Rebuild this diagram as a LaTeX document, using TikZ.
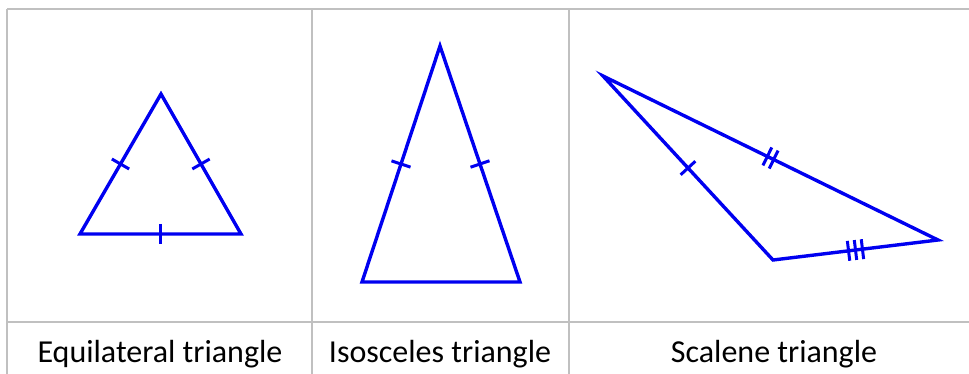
\documentclass[tikz,border=0pt]{standalone}
\usepackage{fontspec}
\setmainfont{Carlito}
\usetikzlibrary{calc}
\definecolor{gridgray}{RGB}{192,192,192}
\definecolor{triblue}{RGB}{0,0,240}
\newcommand\sidemarks[4]{%
  \foreach \o in {#4}{%
    \coordinate (tmid) at ($(#1)!#3!(#2)$);
    \coordinate (toff) at ($(tmid)!\o pt!(#2)$);
    \draw[tickmark] ($(toff)!10pt!90:(#2)$) -- ($(toff)!10pt!-90:(#2)$);
  }%
}
\begin{document}
\begin{tikzpicture}[x=1pt,y=-1pt,
  grid/.style={draw=gridgray,line width=2pt},
  tri/.style={draw=triblue,line width=3.4pt,line join=miter},
  tickmark/.style={draw=triblue,line width=3pt},
  label/.style={font=\fontsize{32}{36}\selectfont,anchor=base,inner sep=0pt}]
\useasboundingbox (0,0) rectangle (969,374);
% table grid
\coordinate (g1) at (7,9);
\coordinate (g2) at (969,9);
\coordinate (g3) at (7,374);
\coordinate (g4) at (7,322);
\coordinate (g5) at (969,322);
\coordinate (g6) at (312,9);
\coordinate (g7) at (312,374);
\coordinate (g8) at (569,9);
\coordinate (g9) at (569,374);
\draw[grid] (g1) -- (g2);
\draw[grid] (g4) -- (g5);
\draw[grid] (g1) -- (g3);
\draw[grid] (g6) -- (g7);
\draw[grid] (g8) -- (g9);
% equilateral
\coordinate (eA) at (161,94);
\coordinate (eB) at (80,234);
\coordinate (eC) at (241,234);
\draw[tri] (eA) -- (eB) -- (eC) -- cycle;
\sidemarks{eB}{eA}{0.5}{0}
\sidemarks{eC}{eA}{0.5}{0}
\sidemarks{eB}{eC}{0.5}{0}
% isosceles
\coordinate (iA) at (440,46);
\coordinate (iB) at (362,282);
\coordinate (iC) at (520,282);
\draw[tri] (iA) -- (iB) -- (iC) -- cycle;
\sidemarks{iB}{iA}{0.5}{0}
\sidemarks{iC}{iA}{0.5}{0}
% scalene
\coordinate (sA) at (603,76);
\coordinate (sB) at (773,260);
\coordinate (sC) at (938,240);
\draw[tri] (sA) -- (sB) -- (sC) -- cycle;
\sidemarks{sA}{sB}{0.5}{0}
\sidemarks{sA}{sC}{0.5}{-3.5,3.5}
\sidemarks{sB}{sC}{0.5}{-7,0,7}
% labels
\node[label] (l1) at (160,362) {Equilateral triangle};
\node[label] (l2) at (440,362) {Isosceles triangle};
\node[label] (l3) at (774,362) {Scalene triangle};
\end{tikzpicture}
\end{document}
